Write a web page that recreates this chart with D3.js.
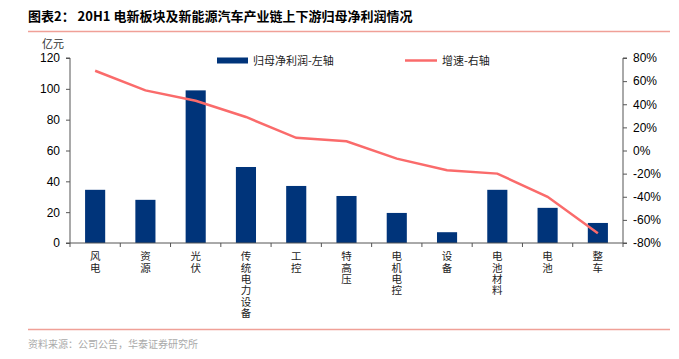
<!DOCTYPE html>
<html><head><meta charset="utf-8">
<script src="https://cdn.jsdelivr.net/npm/d3@7"></script>
<style>body{margin:0;background:#fff;}svg{display:block;font-family:"Liberation Sans",Arial,sans-serif;}</style>
</head><body><svg id="c" width="679" height="359"></svg>
<script>
const categories = ["风电","资源","光伏","传统电力设备","工控","特高压","电机电控","设备","电池材料","电池","整车"];
const profit = [34.5, 28, 99, 49.3, 37, 30.5, 19.5, 7, 34.5, 22.8, 13];
const growth = [69, 52, 43, 29, 11, 8, -7, -17, -20, -40, -71.5];
const leftTicks = [0,20,40,60,80,100,120];
const rightTicks = [-80,-60,-40,-20,0,20,40,60,80];

const svg = d3.select("#c");
const cjk = '"Noto Sans CJK SC", sans-serif';
const L = 70, R = 623, T = 58, B = 243;
const x = d3.scaleBand().domain(categories).range([L, R]).paddingInner(0.6).paddingOuter(0.3);
const xb = d3.scaleBand().domain(categories).range([L, R]);
const y = d3.scaleLinear().domain([0,120]).range([B, T]);
const y2 = d3.scaleLinear().domain([-80,80]).range([B, T]);

// title
svg.append("text").attr("x", 28).attr("y", 21).attr("font-size", 13).attr("font-weight", "bold")
  .attr("font-family", cjk).attr("fill", "#000").text("图表2：  20H1 电新板块及新能源汽车产业链上下游归母净利润情况");
svg.append("line").attr("x1", 28).attr("x2", 670).attr("y1", 31.5).attr("y2", 31.5).attr("stroke", "#f0a097").attr("stroke-width", 1.5);
svg.append("line").attr("x1", 28).attr("x2", 670).attr("y1", 329.5).attr("y2", 329.5).attr("stroke", "#f0a097").attr("stroke-width", 1.5);
svg.append("text").attr("x", 28).attr("y", 348).attr("font-size", 10).attr("font-family", cjk)
  .attr("fill", "#aaa").text("资料来源：公司公告，华泰证券研究所");

svg.append("text").attr("x", 42).attr("y", 48).attr("font-size", 11).attr("font-family", cjk).attr("fill", "#333").text("亿元");

// bars
svg.append("g").selectAll("rect").data(profit).join("rect")
  .attr("x", (d,i) => x(categories[i])).attr("width", x.bandwidth())
  .attr("y", d => y(d)).attr("height", d => B - y(d)).attr("fill", "#00347a");

// line
const line = d3.line().x((d,i) => xb(categories[i]) + xb.bandwidth()/2).y(d => y2(d));
svg.append("path").datum(growth).attr("d", line).attr("fill", "none").attr("stroke", "#fa6b6b").attr("stroke-width", 2.5);

// axes
const gl = svg.append("g").attr("transform", `translate(${L},0)`)
  .call(d3.axisLeft(y).tickValues(leftTicks).tickSize(4).tickPadding(6));
const gr = svg.append("g").attr("transform", `translate(${R},0)`)
  .call(d3.axisRight(y2).tickValues(rightTicks).tickSize(4).tickPadding(6).tickFormat(d => d + "%"));
const gx = svg.append("g").attr("transform", `translate(0,${B})`)
  .call(d3.axisBottom(xb).tickSize(4).tickFormat(""));
gx.selectAll(".tick line").attr("transform", `translate(${-xb.bandwidth()/2},0)`);
gx.append("line").attr("x1", R).attr("x2", R).attr("y1", 0).attr("y2", 4).attr("stroke", "#555");
[gl, gr, gx].forEach(g => {
  g.selectAll("path.domain, line").attr("stroke", "#555");
  g.selectAll("text").attr("font-size", 12).attr("fill", "#000").attr("font-family", '"Liberation Sans", Arial, sans-serif');
});
gl.select("path.domain").attr("d", `M-4,${T}H0V${B}H-4`);
gr.select("path.domain").attr("d", `M4,${T}H0V${B}H4`);
gx.select("path.domain").attr("d", `M${L},0H${R}`);

// vertical category labels (vertical writing mode, one text per label)
const lab = svg.append("g");
categories.forEach(c => {
  const cx = xb(c) + xb.bandwidth()/2;
  lab.append("text").attr("x", cx).attr("y", 251).attr("text-anchor", "start")
    .style("writing-mode", "vertical-rl").style("text-orientation", "upright")
    .attr("letter-spacing", 0.9)
    .attr("font-size", 10.5).attr("font-family", cjk).attr("fill", "#222").text(c);
});

// legend
svg.append("rect").attr("x", 217).attr("y", 57.5).attr("width", 31).attr("height", 6).attr("fill", "#00347a");
svg.append("text").attr("x", 253).attr("y", 65).attr("font-size", 11).attr("font-family", cjk).attr("fill", "#222").text("归母净利润-左轴");
svg.append("line").attr("x1", 405).attr("x2", 437).attr("y1", 60.5).attr("y2", 60.5).attr("stroke", "#fa6b6b").attr("stroke-width", 2.5);
svg.append("text").attr("x", 442).attr("y", 65).attr("font-size", 11).attr("font-family", cjk).attr("fill", "#222").text("增速-右轴");
</script></body></html>
